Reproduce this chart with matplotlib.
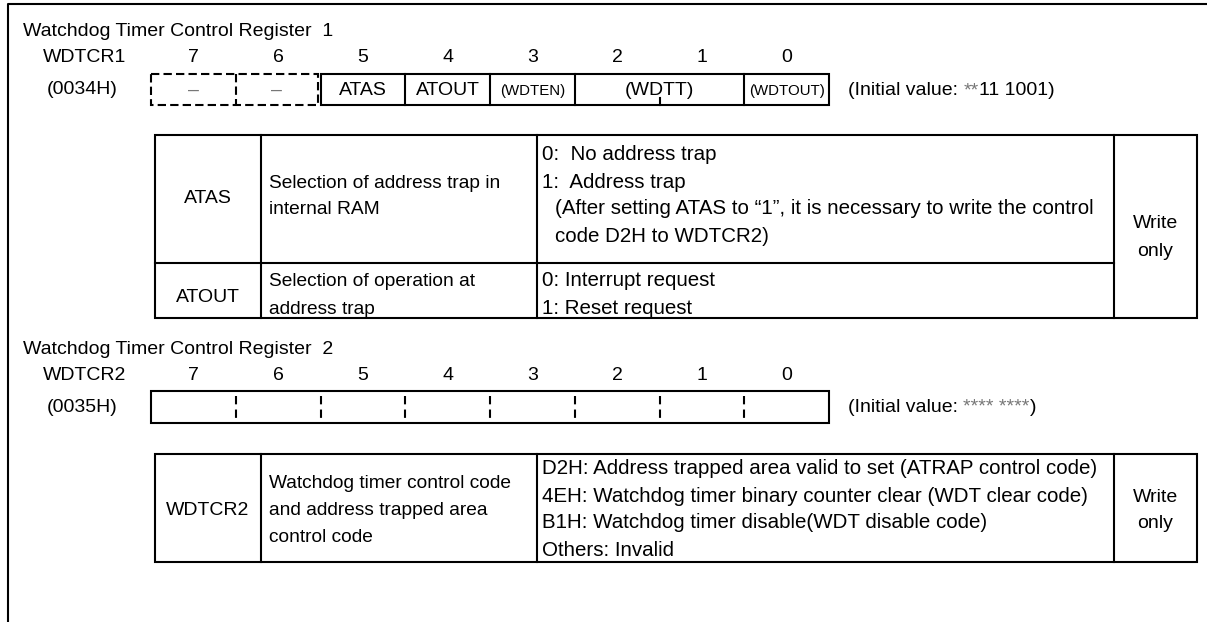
import matplotlib
matplotlib.use('Agg')
import matplotlib.pyplot as plt
from matplotlib.patches import Rectangle

plt.rcParams['font.family'] = ['Liberation Sans', 'DejaVu Sans']

# ---------------- data ----------------
bit_numbers = [7, 6, 5, 4, 3, 2, 1, 0]

reg1_title = "Watchdog Timer Control Register  1"
reg1_name = "WDTCR1"
reg1_addr = "(0034H)"
reg1_fields = ["–", "–", "ATAS", "ATOUT", "(WDTEN)", "(WDTT)", "(WDTOUT)"]
reg1_field_hi = [7, 6, 5, 4, 3, 2, 0]
reg1_field_lo = [7, 6, 5, 4, 3, 1, 0]
reg1_field_small = [False, False, False, False, True, False, True]
reg1_unused_bits = [7, 6]
reg1_init_parts = ["(Initial value: ", "**", "11 1001)"]

reg2_title = "Watchdog Timer Control Register  2"
reg2_name = "WDTCR2"
reg2_addr = "(0035H)"
reg2_init_parts = ["(Initial value: ", "**** ****", ")"]

tbl1_symbols = ["ATAS", "ATOUT"]
tbl1_names = [["Selection of address trap in", "internal RAM"],
              ["Selection of operation at", "address trap"]]
tbl1_desc = [["0:  No address trap", "1:  Address trap",
              "(After setting ATAS to \u201c1\u201d, it is necessary to write the control",
              "code D2H to WDTCR2)"],
             ["0: Interrupt request", "1: Reset request"]]
tbl1_desc_indent = [[False, False, True, True], [False, False]]
tbl1_access = ["Write", "only"]

tbl2_symbols = ["WDTCR2"]
tbl2_names = [["Watchdog timer control code", "and address trapped area", "control code"]]
tbl2_desc = [["D2H: Address trapped area valid to set (ATRAP control code)",
              "4EH: Watchdog timer binary counter clear (WDT clear code)",
              "B1H: Watchdog timer disable(WDT disable code)",
              "Others: Invalid"]]
tbl2_access = ["Write", "only"]

# ---------------- layout ----------------
W, H = 1207, 622
fig = plt.figure(figsize=(W / 100, H / 100), dpi=100)
ax = fig.add_axes([0, 0, 1, 1])
ax.set_xlim(0, W)
ax.set_ylim(H, 0)
ax.axis('off')

FS = 14.0
FS_NAME = 13.8
FS_DESC = 14.8
FS_SMALL = 10.8
LW = 1.5
GRAY = '#777777'

# outer frame
ax.plot([8, 8, W], [H, 4, 4], color='black', lw=LW, solid_capstyle='butt')

X0 = 151.0
BW = 84.75


def bx(bit):
    return X0 + (7 - bit) * BW


renderer = fig.canvas.get_renderer()


def parts_text(x, y, parts, colors):
    for p, c in zip(parts, colors):
        t = ax.text(x, y, p, fontsize=FS, color=c, va='center', ha='left')
        bb = t.get_window_extent(renderer=renderer)
        x += bb.width


def header(y_title, y_bits, title, name, addr, y_box_top, y_box_bot):
    ax.text(23, y_title, title, fontsize=FS, va='center', ha='left')
    ax.text(43, y_bits, name, fontsize=FS, va='center', ha='left')
    ax.text(47, (y_box_top + y_box_bot) / 2, addr, fontsize=FS, va='center', ha='left')
    for b in bit_numbers:
        ax.text(bx(b) + BW / 2, y_bits, str(b), fontsize=FS, va='center', ha='center')


# ---- register 1 ----
r1_top, r1_bot = 74, 105
header(31, 57, reg1_title, reg1_name, reg1_addr, r1_top, r1_bot)
ux0 = bx(max(reg1_unused_bits))
ux1 = bx(min(reg1_unused_bits)) + BW - 3
ax.add_patch(Rectangle((ux0, r1_top), ux1 - ux0, r1_bot - r1_top, fill=False,
                       lw=LW, ls=(0, (4, 2)), ec='black'))
ax.plot([bx(6), bx(6)], [r1_top, r1_bot], color='black', lw=LW, ls=(0, (4, 2)))
sx0 = bx(5)
sx1 = bx(0) + BW
ax.add_patch(Rectangle((sx0, r1_top), sx1 - sx0, r1_bot - r1_top, fill=False,
                       lw=LW, ec='black'))
for name, hi, lo, small in zip(reg1_fields, reg1_field_hi, reg1_field_lo, reg1_field_small):
    left = bx(hi)
    right = bx(lo) + BW
    if hi in reg1_unused_bits:
        right = min(right, ux1)
        ax.text((left + right) / 2, (r1_top + r1_bot) / 2 + 1, name, fontsize=FS,
                color=GRAY, va='center', ha='center')
        continue
    if hi != 5:
        ax.plot([left, left], [r1_top, r1_bot], color='black', lw=LW)
    ax.text((left + right) / 2, (r1_top + r1_bot) / 2 + 1, name,
            fontsize=FS_SMALL if small else FS, va='center', ha='center')
    for b in range(lo + 1, hi + 1):
        xb = bx(b - 1)
        ax.plot([xb, xb], [r1_bot - 7, r1_bot], color='black', lw=LW)
parts_text(848, (r1_top + r1_bot) / 2 + 1, reg1_init_parts, ['black', GRAY, 'black'])

# ---- table 1 ----
cols = [155, 261, 537, 1114, 1197]
t1_rows = [135, 263, 318]
ax.add_patch(Rectangle((cols[0], t1_rows[0]), cols[-1] - cols[0], t1_rows[-1] - t1_rows[0],
                       fill=False, lw=LW, ec='black'))
for c in cols[1:-1]:
    ax.plot([c, c], [t1_rows[0], t1_rows[-1]], color='black', lw=LW)
ax.plot([cols[0], cols[3]], [t1_rows[1], t1_rows[1]], color='black', lw=LW)
LH = 27
t1_first = [155, 281]
for i in range(len(tbl1_symbols)):
    n = len(tbl1_desc[i])
    ys = [t1_first[i] + k * LH for k in range(n)]
    ymid = (ys[0] + ys[-1]) / 2 + 1
    ax.text((cols[0] + cols[1]) / 2, ymid + 2, tbl1_symbols[i], fontsize=FS, va='center', ha='center')
    m = len(tbl1_names[i])
    for k, line in enumerate(tbl1_names[i]):
        ax.text(cols[1] + 8, ymid + (k - (m - 1) / 2) * LH, line, fontsize=FS_NAME,
                va='center', ha='left')
    for k, line in enumerate(tbl1_desc[i]):
        ax.text(cols[2] + 5 + (13 if tbl1_desc_indent[i][k] else 0), ys[k], line,
                fontsize=FS_DESC, va='center', ha='left')
acc_mid = (t1_rows[0] + t1_rows[-1]) / 2 + 11
for k, line in enumerate(tbl1_access):
    ax.text((cols[3] + cols[4]) / 2, acc_mid + (k - 0.5) * LH, line, fontsize=FS,
            va='center', ha='center')

# ---- register 2 ----
r2_top, r2_bot = 391, 423
header(350, 375, reg2_title, reg2_name, reg2_addr, r2_top, r2_bot)
ax.add_patch(Rectangle((bx(7), r2_top), 8 * BW, r2_bot - r2_top, fill=False, lw=LW, ec='black'))
for b in bit_numbers[1:]:
    xb = bx(b)
    ax.plot([xb, xb], [r2_top + 5, r2_bot - 4], color='black', lw=LW, ls=(0, (4, 2.5)))
parts_text(848, (r2_top + r2_bot) / 2 + 1, reg2_init_parts, ['black', GRAY, 'black'])

# ---- table 2 ----
t2_rows = [454, 562]
ax.add_patch(Rectangle((cols[0], t2_rows[0]), cols[-1] - cols[0], t2_rows[-1] - t2_rows[0],
                       fill=False, lw=LW, ec='black'))
for c in cols[1:-1]:
    ax.plot([c, c], [t2_rows[0], t2_rows[-1]], color='black', lw=LW)
t2_first = 469
n = len(tbl2_desc[0])
ys = [t2_first + k * LH for k in range(n)]
ymid = (ys[0] + ys[-1]) / 2 + 1
ax.text((cols[0] + cols[1]) / 2, ymid, tbl2_symbols[0], fontsize=FS, va='center', ha='center')
m = len(tbl2_names[0])
for k, line in enumerate(tbl2_names[0]):
    ax.text(cols[1] + 8, ymid + (k - (m - 1) / 2) * LH, line, fontsize=FS_NAME,
            va='center', ha='left')
for k, line in enumerate(tbl2_desc[0]):
    ax.text(cols[2] + 5, ys[k], line, fontsize=FS_DESC, va='center', ha='left')
for k, line in enumerate(tbl2_access):
    ax.text((cols[3] + cols[4]) / 2, ymid + (k - 0.5) * LH, line, fontsize=FS,
            va='center', ha='center')

fig.savefig('out.png', dpi=100)
